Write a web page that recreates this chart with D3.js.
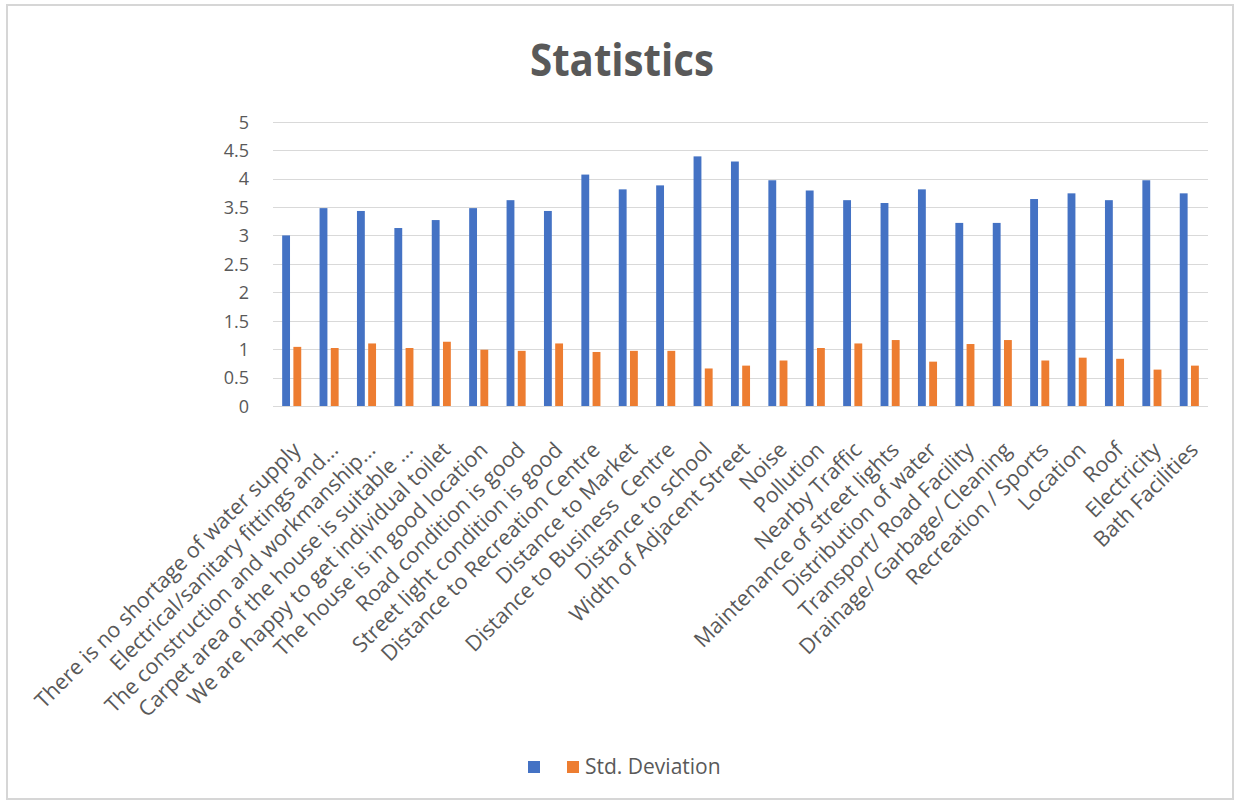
<!DOCTYPE html>
<html>
<head>
<meta charset="utf-8">
<script src="https://cdn.jsdelivr.net/npm/d3@7"></script>
<style>
    body { margin: 0; background: #fff; }
    text { font-family: "Open Sans", sans-serif; fill: #595959; }
</style>
</head>
<body>
<svg id="chart" width="1236" height="803"></svg>
<script>
const categories = [
    "There is no shortage of water supply",
    "Electrical/sanitary fittings and...",
    "The construction and workmanship...",
    "Carpet area of the house is suitable ...",
    "We are happy to get individual toilet",
    "The house is in good location",
    "Road condition is good",
    "Street light condition is good",
    "Distance to Recreation Centre",
    "Distance to Market",
    "Distance to Business  Centre",
    "Distance to school",
    "Width of Adjacent Street",
    "Noise",
    "Pollution",
    "Nearby Traffic",
    "Maintenance of street lights",
    "Distribution of water",
    "Transport/ Road Facility",
    "Drainage/ Garbage/ Cleaning",
    "Recreation / Sports",
    "Location",
    "Roof",
    "Electricity",
    "Bath Facilities"
];

const meanValues = [3.0, 3.48, 3.43, 3.13, 3.27, 3.48, 3.62, 3.43, 4.07, 3.81, 3.88, 4.39, 4.30,
    3.97, 3.79, 3.62, 3.57, 3.81, 3.22, 3.22, 3.64, 3.74, 3.62, 3.97, 3.74];
const stdValues = [1.04, 1.02, 1.10, 1.02, 1.13, 0.99, 0.97, 1.10, 0.95, 0.97, 0.97, 0.66, 0.71,
    0.80, 1.02, 1.10, 1.16, 0.78, 1.09, 1.16, 0.80, 0.85, 0.83, 0.64, 0.71];

const seriesNames = ["", "Std. Deviation"];
const seriesColors = ["#4472C4", "#ED7D31"];
const yTicks = [0, 0.5, 1, 1.5, 2, 2.5, 3, 3.5, 4, 4.5, 5];

const svg = d3.select("#chart");

svg.append("rect")
    .attr("x", 7).attr("y", 5)
    .attr("width", 1226).attr("height", 794)
    .attr("fill", "#fff")
    .attr("stroke", "#d6d6d6")
    .attr("stroke-width", 2);

const plotLeft = 273, plotRight = 1208, plotTop = 121.7, plotBottom = 406;

const x0 = d3.scaleBand()
    .domain(categories)
    .range([plotLeft, plotRight])
    .paddingInner(0.49)
    .paddingOuter(0.245);

const x1 = d3.scaleBand()
    .domain(seriesNames)
    .range([0, x0.bandwidth()])
    .paddingInner(0.3);

const y = d3.scaleLinear()
    .domain([0, 5])
    .range([plotBottom, plotTop]);

// gridlines
svg.append("g")
    .selectAll("line")
    .data(yTicks)
    .join("line")
    .attr("x1", plotLeft)
    .attr("x2", plotRight)
    .attr("y1", d => Math.round(y(d)) + 0.5)
    .attr("y2", d => Math.round(y(d)) + 0.5)
    .attr("stroke", "#d9d9d9")
    .attr("stroke-width", 1);

const yAxis = svg.append("g")
    .attr("transform", `translate(${plotLeft - 24},0)`)
    .call(d3.axisLeft(y).tickValues(yTicks).tickSize(0).tickPadding(0).tickFormat(d3.format("")));
yAxis.select(".domain").remove();
yAxis.selectAll("text")
    .style("font-size", "18px")
    .style("fill", "#595959")
    .attr("dy", "0.35em");

const rows = categories.map((c, i) => ({ cat: c, vals: [meanValues[i], stdValues[i]] }));

svg.append("g")
    .selectAll("g")
    .data(rows)
    .join("g")
    .attr("transform", d => `translate(${x0(d.cat)},0)`)
    .selectAll("rect")
    .data(d => d.vals.map((v, k) => ({ name: seriesNames[k], value: v, k })))
    .join("rect")
    .attr("x", d => x1(d.name))
    .attr("width", x1.bandwidth())
    .attr("y", d => y(d.value))
    .attr("height", d => y(0) - y(d.value))
    .attr("fill", d => seriesColors[d.k]);

// category labels, rotated
svg.append("g")
    .selectAll("text")
    .data(categories)
    .join("text")
    .attr("transform", d => `translate(${x0(d) + x0.bandwidth() / 2 + 5},446) rotate(-45)`)
    .attr("text-anchor", "end")
    .attr("dy", "0.35em")
    .style("font-size", "21.5px")
    .style("white-space", "pre")
    .text(d => d);

svg.append("text")
    .attr("x", 622)
    .attr("y", 76)
    .attr("text-anchor", "middle")
    .attr("textLength", 184)
    .attr("lengthAdjust", "spacingAndGlyphs")
    .style("font-size", "44px")
    .style("font-weight", "bold")
    .text("Statistics");

// legend
const legendX = [528, 567];
const legend = svg.append("g")
    .selectAll("g")
    .data(seriesNames)
    .join("g")
    .attr("transform", (d, i) => `translate(${legendX[i]},761)`);
legend.append("rect")
    .attr("width", 12).attr("height", 12)
    .attr("fill", (d, i) => seriesColors[i]);
legend.append("text")
    .attr("x", 18)
    .attr("y", 13)
    .style("font-size", "21px")
    .text(d => d);
</script>
</body>
</html>
